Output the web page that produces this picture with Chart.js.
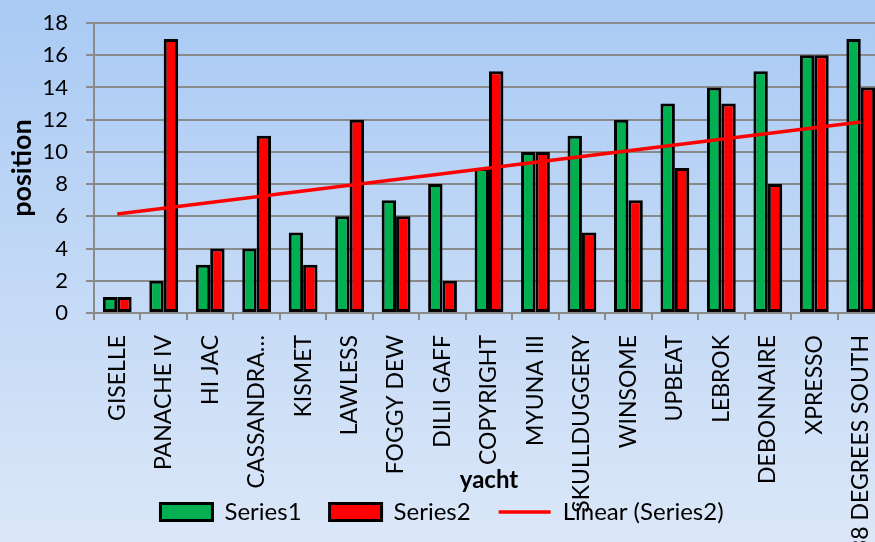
<!DOCTYPE html>
<html>
<head>
<meta charset="utf-8">
<script src="https://cdn.jsdelivr.net/npm/chart.js@4"></script>
<style>
  html, body { margin: 0; padding: 0; overflow: hidden; }
  #wrap {
    width: 884px; height: 542px;
    background: linear-gradient(to bottom, #a9caf4 0%, #dbe7f8 100%);
  }
</style>
</head>
<body>
<div id="wrap"><canvas id="myChart" width="884" height="542"></canvas></div>
<script>
const yachts = ["GISELLE", "PANACHE IV", "HI JAC", "CASSANDRA\u2026", "KISMET", "LAWLESS", "FOGGY DEW",
  "DILII GAFF", "COPYRIGHT", "MYUNA III", "SKULLDUGGERY", "WINSOME", "UPBEAT", "LEBROK",
  "DEBONNAIRE", "XPRESSO", "38 DEGREES SOUTH"];
const series1 = [1, 2, 3, 4, 5, 6, 7, 8, 9, 10, 11, 12, 13, 14, 15, 16, 17];
const series2 = [1, 17, 4, 11, 3, 12, 6, 2, 15, 10, 5, 7, 9, 13, 8, 16, 14];
// trendline ends (first and last yacht)
const trendEnds = [6.14, 11.86];
const yTicks = [0, 2, 4, 6, 8, 10, 12, 14, 16, 18];

const font = "Lato";
const gridGrey = "#8a8a8a";

const ctx = document.getElementById("myChart");

const myChart = new Chart(ctx, {
	type: "bar",
	data: {
		labels: yachts,
		datasets: [
			{
				label: "Series1",
				data: series1,
				backgroundColor: "#00b050",
				borderColor: "#000",
				borderWidth: 3,
				borderSkipped: false,
				categoryPercentage: 0.62,
				barPercentage: 1,
			},
			{
				label: "Series2",
				data: series2,
				backgroundColor: "#ff0000",
				borderColor: "#000",
				borderWidth: 3,
				borderSkipped: false,
				categoryPercentage: 0.62,
				barPercentage: 1,
			},
			{
				type: "line",
				label: "Linear (Series2)",
				data: [
					{ x: yachts[0], y: trendEnds[0] },
					{ x: yachts[yachts.length - 1], y: trendEnds[1] },
				],
				borderColor: "#ff0000",
				backgroundColor: "#ff0000",
				borderWidth: 3.5,
				pointRadius: 0,
				fill: false,
				order: -1,
			},
		],
	},
	options: {
		responsive: false,
		animation: false,
		devicePixelRatio: 1,
		layout: { padding: { top: 23, bottom: 8, left: 0, right: 0 } },
		scales: {
			y: {
				min: 0,
				max: 18,
				afterBuildTicks: (s) => { s.ticks = yTicks.map((v) => ({ value: v })); },
				ticks: { font: { family: font, size: 22 }, color: "#000", padding: 18 },
				grid: { color: gridGrey, lineWidth: 2, tickLength: 8 },
				border: { color: gridGrey, width: 2 },
				title: {
					display: true,
					text: "position",
					color: "#000",
					font: { family: font, size: 27, weight: "bold" },
					padding: { top: 6, bottom: 0 },
				},
				afterFit: (s) => {
					s.width = 94;
					s.paddingTop = 0;
					s.paddingBottom = 0;
				},
			},
			x: {
				ticks: {
					minRotation: 90,
					maxRotation: 90,
					autoSkip: false,
					font: { family: font, size: 23 },
					color: "#000",
					padding: 15,
				},
				grid: { offset: true, drawOnChartArea: false, tickLength: 7, color: gridGrey, lineWidth: 2 },
				border: { color: gridGrey, width: 2 },
				title: {
					display: true,
					text: "yacht",
					color: "#000",
					font: { family: font, size: 24, weight: "bold" },
					padding: { top: 0, bottom: -23 },
				},
				afterFit: (s) => {
					s.height = 159;
					s.paddingLeft = 0;
					s.paddingRight = 0;
				},
				// long labels run down over the title and legend, as in the original
				afterUpdate: (s) => { s._computeLabelArea = () => undefined; },
			},
		},
		plugins: {
			tooltip: { enabled: false },
			legend: {
				position: "bottom",
				labels: {
					usePointStyle: true,
					pointStyleWidth: 52,
					boxHeight: 17,
					padding: 28,
					color: "#000",
					font: { family: font, size: 24 },
					generateLabels: (chart) => {
						const items = Chart.defaults.plugins.legend.labels.generateLabels(chart);
						items.sort((a, b) => a.datasetIndex - b.datasetIndex);
						items.forEach((it) => { it.pointStyle = it.datasetIndex === 2 ? "line" : "rect"; });
						return items;
					},
				},
			},
		},
	},
});
</script>
</body>
</html>
